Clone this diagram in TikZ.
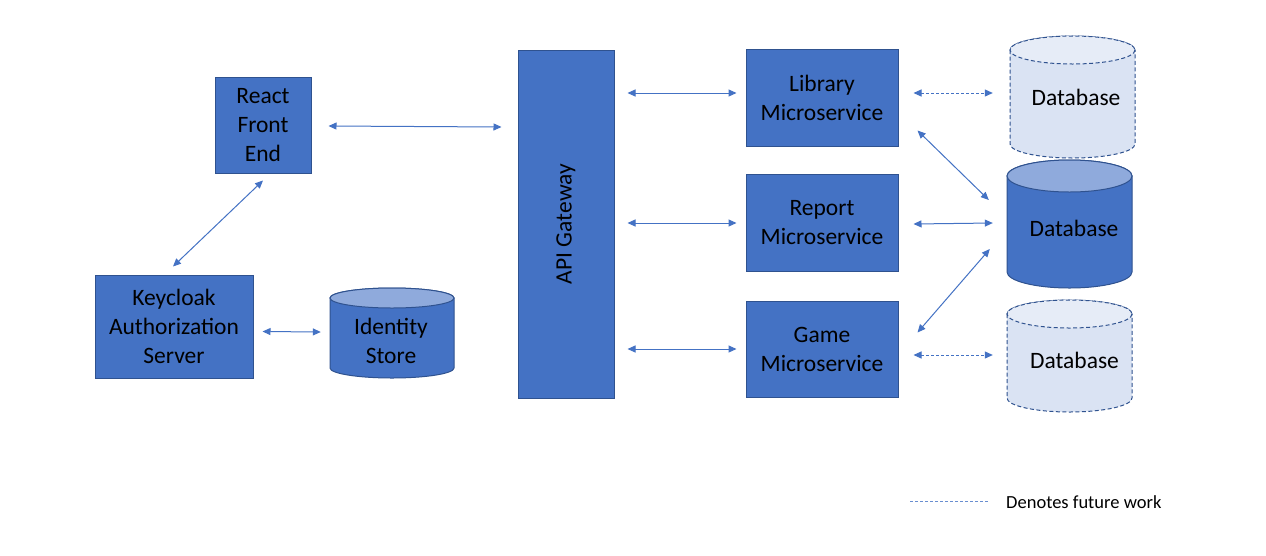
\documentclass[tikz,border=0pt]{standalone}
\usepackage{fontspec}
\setmainfont{Carlito}
\usetikzlibrary{arrows.meta,calc}
\definecolor{boxfill}{HTML}{4472C4}
\definecolor{boxline}{HTML}{2F528F}
\definecolor{cyltop}{HTML}{8FAADC}
\definecolor{futfill}{HTML}{DAE3F3}
\definecolor{futtop}{HTML}{E6ECF7}
\definecolor{arrowcol}{HTML}{4472C4}
\tikzset{
  svcbox/.style={draw=boxline, fill=boxfill, line width=1pt, inner sep=0pt, align=center,
    font=\fontsize{23.5}{29}\selectfont, text=black},
  dbnode/.style={inner sep=0pt, align=center, font=\fontsize{23.5}{29}\selectfont, text=black},
  dbsolid/.style={draw=boxline, fill=boxfill, line width=1pt},
  dbfuture/.style={draw=boxline, fill=futfill, line width=1pt, dash pattern=on 4pt off 2.5pt},
  link/.style={draw=arrowcol, line width=1pt, {Triangle[length=8pt,width=7pt]}-{Triangle[length=8pt,width=7pt]}},
  futurelink/.style={link, dash pattern=on 3pt off 2pt},
}
\begin{document}
\begin{tikzpicture}[x=1pt,y=-1pt]
\path[fill=white] (0,0) rectangle (1266,555);
\useasboundingbox (0,0) rectangle (1266,555);

% cylinders (drawn shapes)
% Identity store
\path[dbsolid] (330,298) -- (330,368) arc[start angle=180,end angle=0,x radius=62,y radius=10] -- (454,298) arc[start angle=0,end angle=-180,x radius=62,y radius=10] -- cycle;
\path[dbsolid, fill=cyltop] (392,298) ellipse[x radius=62,y radius=10];
% DB1 future
\path[dbfuture] (1010,50) -- (1010,144) arc[start angle=180,end angle=0,x radius=62.5,y radius=14] -- (1135,50) arc[start angle=0,end angle=-180,x radius=62.5,y radius=14] -- cycle;
\path[dbfuture, fill=futtop] (1072.5,50) ellipse[x radius=62.5,y radius=14];
% DB2 solid
\path[dbsolid] (1007,176) -- (1007,272) arc[start angle=180,end angle=0,x radius=62.5,y radius=16] -- (1132,176) arc[start angle=0,end angle=-180,x radius=62.5,y radius=16] -- cycle;
\path[dbsolid, fill=cyltop] (1069.5,176) ellipse[x radius=62.5,y radius=16];
% DB3 future
\path[dbfuture] (1007,314) -- (1007,398) arc[start angle=180,end angle=0,x radius=62.5,y radius=14] -- (1132,314) arc[start angle=0,end angle=-180,x radius=62.5,y radius=14] -- cycle;
\path[dbfuture, fill=futtop] (1069.5,314) ellipse[x radius=62.5,y radius=14];

% nodes
\node[svcbox, minimum width=96pt, minimum height=96pt] (react) at (263,125) {React\\Front\\End};
\node[svcbox, minimum width=158pt, minimum height=103pt] (key) at (174,326.5) {Keycloak\\Authorization\\Server};
\node[svcbox, minimum width=96pt, minimum height=348pt] (api) at (566,224) {};
\node[dbnode, rotate=90] (apilabel) at (api.center) {API Gateway};
\node[svcbox, minimum width=152pt, minimum height=97pt] (lib) at (822,97.5) {Library\\Microservice};
\node[svcbox, minimum width=152pt, minimum height=97pt] (rep) at (822,222.5) {Report\\Microservice};
\node[svcbox, minimum width=152pt, minimum height=96pt] (game) at (822,349) {Game\\Microservice};

\node[dbnode, minimum width=124pt, minimum height=90pt] (ids) at (392,333) {};
\node[dbnode] (idstext) at (391,341) {Identity\\Store};
\node[dbnode, minimum width=125pt, minimum height=122pt] (db1) at (1072.5,97) {};
\node[dbnode] (db1text) at (1076,97) {Database};
\node[dbnode, minimum width=125pt, minimum height=128pt] (db2) at (1069.5,224) {};
\node[dbnode] (db2text) at (1074,228) {Database};
\node[dbnode, minimum width=125pt, minimum height=112pt] (db3) at (1069.5,356) {};
\node[dbnode] (db3text) at (1074.5,360) {Database};

% connectors
\draw[link] ($(react.east)+(17,1)$) -- ($(api.west |- react.east)+(-16,2)$);
\draw[link] ($(react.south)+(0,7)$) -- ($(key.north)+(-1,-8)$);
\draw[link] ($(key.east)+(9,5)$) -- ($(ids.west)+(-9,-1)$);
\draw[link] ($(api.east |- lib.west)+(13,-4.5)$) -- ($(lib.west)+(-9,-4.5)$);
\draw[link] ($(api.east |- rep.west)+(13,0.5)$) -- ($(rep.west)+(-9,0.5)$);
\draw[link] ($(api.east |- game.west)+(13,0)$) -- ($(game.west)+(-9,0)$);
\draw[futurelink] ($(lib.east)+(15,-4.5)$) -- ($(db1.west)+(-17,-4)$);
\draw[link] ($(lib.south east)+(19,-16)$) -- ($(db2.west)+(-18,-24)$);
\draw[link] ($(rep.east)+(15,1.5)$) -- ($(db2.west)+(-14,-1)$);
\draw[link] ($(game.north east)+(19,32)$) -- ($(db2.west)+(-17,25)$);
\draw[futurelink] ($(game.east)+(15,6)$) -- ($(db3.west)+(-14,-1)$);

% legend
\coordinate (lega) at (910,501);
\coordinate (legb) at (988,501);
\draw[draw=arrowcol!80, line width=1pt, dash pattern=on 3pt off 2pt] (lega) -- (legb);
\node[anchor=west, inner sep=0pt, font=\fontsize{18.5}{22}\selectfont, text=black] (legtext) at (1006,502) {Denotes future work};
\end{tikzpicture}
\end{document}
